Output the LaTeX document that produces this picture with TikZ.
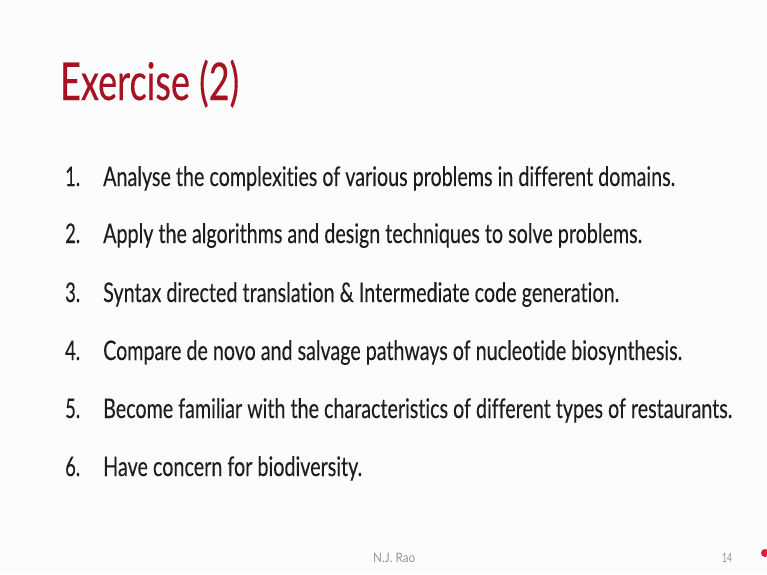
\documentclass[tikz,border=0pt]{standalone}
\usepackage{fontspec}
\setmainfont{Lato}[Ligatures=NoCommon, FakeBold=0.25]
\newfontfamily\footfont{Lato}[Ligatures=NoCommon]
\usepackage{graphicx}
\definecolor{titlered}{RGB}{165,18,34}
\definecolor{textgray}{RGB}{30,30,30}
\definecolor{footgray}{RGB}{150,150,140}
\definecolor{dotred}{RGB}{225,30,60}
\definecolor{bgwhite}{RGB}{252,252,252}
\newsavebox\fitbox
\newcommand\fitto[2]{\sbox\fitbox{#2}\scalebox{\fpeval{#1/\the\wd\fitbox}}[1]{\usebox\fitbox}}
\begin{document}
\begin{tikzpicture}[x=1pt,y=-1pt,
  titletext/.style={anchor=base west, inner sep=0pt, text=titlered, font=\fontsize{52}{60}\selectfont},
  itemtext/.style={anchor=base west, inner sep=0pt, text=textgray, font=\fontsize{27}{30}\selectfont},
  numtext/.style={anchor=base west, inner sep=0pt, text=textgray, font=\fontsize{27}{30}\selectfont},
  foottext/.style={anchor=base west, inner sep=0pt, text=footgray, font=\footfont\fontsize{13}{15}\selectfont}]
\useasboundingbox (0,0) rectangle (767,574);
\fill[bgwhite] (0,0) rectangle (767,574);
\node[titletext] (title) at (60,100) {\fitto{179}{Exercise (2)}};
\node[numtext] (n1) at (65,186) {\scalebox{0.68}[1]{1.}};
\node[itemtext] (t1) at (103,186) {\fitto{572}{Analyse the complexities of various problems in different domains.}};
\node[numtext] (n2) at (65,243) {\scalebox{0.68}[1]{2.}};
\node[itemtext] (t2) at (103,243) {\fitto{539}{Apply the algorithms and design techniques to solve problems.}};
\node[numtext] (n3) at (65,302) {\scalebox{0.68}[1]{3.}};
\node[itemtext] (t3) at (103,302) {\fitto{516}{Syntax directed translation \& Intermediate code generation.}};
\node[numtext] (n4) at (65,360) {\scalebox{0.68}[1]{4.}};
\node[itemtext] (t4) at (103,360) {\fitto{579}{Compare de novo and salvage pathways of nucleotide biosynthesis.}};
\node[numtext] (n5) at (65,418) {\scalebox{0.68}[1]{5.}};
\node[itemtext] (t5) at (103,418) {\fitto{629}{Become familiar with the characteristics of different types of restaurants.}};
\node[numtext] (n6) at (65,476) {\scalebox{0.68}[1]{6.}};
\node[itemtext] (t6) at (103,476) {\fitto{259}{Have concern for biodiversity.}};
\node[foottext] (author) at (373,562) {\fitto{42}{N.J. Rao}};
\node[foottext] (page) at (722,562) {\fitto{10}{14}};
\fill[dotred] (765,553) circle (4);
\end{tikzpicture}
\end{document}
